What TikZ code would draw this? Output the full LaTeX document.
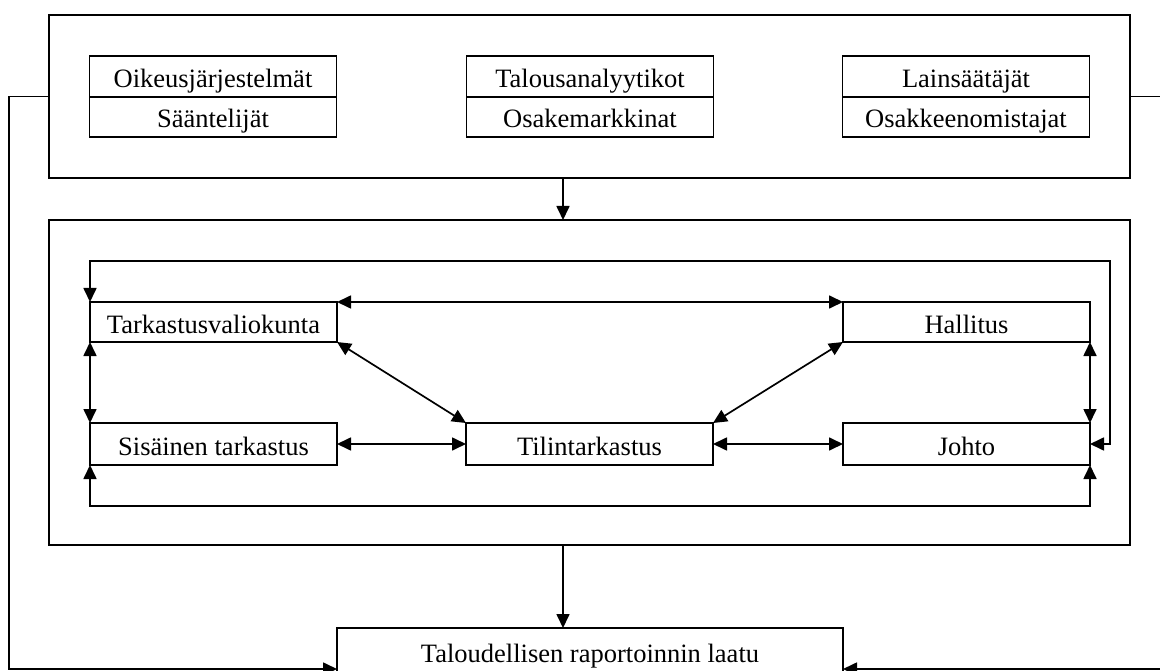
\documentclass[tikz,border=0pt]{standalone}
\usepackage{fontspec}
\setmainfont{Liberation Serif}
\usetikzlibrary{arrows.meta}
\begin{document}
\begin{tikzpicture}[x=1pt,y=-1pt,
  box/.style={draw, line width=1.8pt, inner sep=0pt, outer sep=0pt, minimum width=247pt, text height=22pt, text depth=0pt, font=\fontsize{26.5}{30}\selectfont},
  big/.style={draw, line width=1.8pt, inner sep=0pt, outer sep=0pt},
  ln/.style={line width=1.7pt},
  arr/.style={ln, -{Triangle[length=14pt,width=13pt]}},
  darr/.style={ln, {Triangle[length=14pt,width=13pt]}-{Triangle[length=14pt,width=13pt]}},
  line join=miter]
\useasboundingbox (0,0) rectangle (1160,671);
% outer boxes
\node[big, minimum width=1081pt, minimum height=163pt] (top) at (589.5,96.5) {};
\node[big, minimum width=1081pt, minimum height=325pt] (mid) at (589.5,382.5) {};
% top inner boxes
\node[box, minimum height=41pt] (oik) at (213,76.5) {Oikeusjärjestelmät};
\node[box, minimum height=40pt, anchor=north] (saa) at (oik.south) {Sääntelijät};
\node[box, minimum height=41pt] (tal) at (590,76.5) {Talousanalyytikot};
\node[box, minimum height=40pt, anchor=north] (osa) at (tal.south) {Osakemarkkinat};
\node[box, minimum height=41pt] (lai) at (966,76.5) {Lainsäätäjät};
\node[box, minimum height=40pt, anchor=north] (osk) at (lai.south) {Osakkeenomistajat};
% middle nodes
\node[box, minimum height=40pt] (tark) at (213.5,322) {Tarkastusvaliokunta};
\node[box, minimum height=40pt] (hall) at (966.5,322) {Hallitus};
\node[box, minimum height=42pt] (sis) at (213.5,444) {Sisäinen tarkastus};
\node[box, minimum height=42pt] (tilin) at (589.5,444) {Tilintarkastus};
\node[box, minimum height=42pt] (johto) at (966.5,444) {Johto};
% bottom node
\node[box, minimum width=506pt, minimum height=46pt] (bot) at (590,651) {Taloudellisen raportoinnin laatu};
% coordinates
\coordinate (ax) at (563,0);
\coordinate (fl) at (9,97);
\coordinate (fr) at (1165,97);
\coordinate (fb) at (0,669);
\coordinate (lt) at (1110,261);
\coordinate (lb) at (600,506);
% connectors between outer boxes
\draw[arr] (top.south -| ax) -- (mid.north -| ax);
\draw[arr] (mid.south -| ax) -- (bot.north -| ax);
% feedback lines
\draw[arr] (top.west) -- (top.west -| fl) |- (fb -| bot.west);
\draw[arr] (top.east) -- (top.east -| fr) |- (fb -| bot.east);
% loops
\draw[darr] (tark.north west) |- (lt) |- (johto.east);
\draw[darr] (sis.south west) |- (lb) -| (johto.south east);
% verticals
\draw[darr] (tark.south west) -- (sis.north west);
\draw[darr] (hall.south east) -- (johto.north east);
% horizontals
\draw[darr] (tark.north east) -- (hall.north west);
\draw[darr] (sis.east) -- (tilin.west);
\draw[darr] (tilin.east) -- (johto.west);
% diagonals
\draw[darr] (tark.south east) -- (tilin.north west);
\draw[darr] (hall.south west) -- (tilin.north east);
\end{tikzpicture}
\end{document}
